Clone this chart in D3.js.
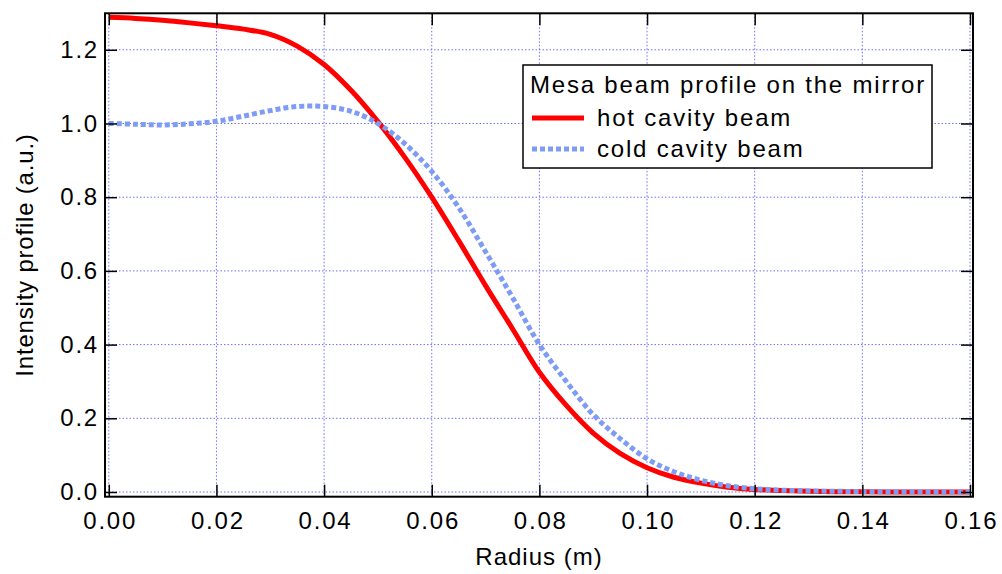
<!DOCTYPE html>
<html>
<head>
<meta charset="utf-8">
<script src="https://cdn.jsdelivr.net/npm/d3@7"></script>
<style>
  body { margin: 0; background: #fff; }
  text { font-family: "Liberation Sans", Arial, sans-serif; fill: #000; letter-spacing: 1.8px; }
</style>
</head>
<body>
<svg id="chart" width="1002" height="574"></svg>
<script>
// radius (m)
const radius = [0.000, 0.005, 0.010, 0.015, 0.020, 0.025, 0.030, 0.035, 0.040, 0.045,
  0.050, 0.055, 0.060, 0.065, 0.070, 0.075, 0.080, 0.085, 0.090, 0.095,
  0.100, 0.105, 0.110, 0.115, 0.120, 0.125, 0.130, 0.135, 0.140, 0.145,
  0.150, 0.155, 0.160];
const hotBeam = [1.288, 1.285, 1.280, 1.273, 1.265, 1.256, 1.242, 1.210, 1.160, 1.090,
  1.005, 0.908, 0.800, 0.682, 0.560, 0.443, 0.325, 0.235, 0.160, 0.105,
  0.066, 0.040, 0.024, 0.013, 0.007, 0.004, 0.002, 0.001, 0.0005, 0.0003,
  0.0002, 0.0001, 0.0001];
const coldBeam = [1.000, 0.998, 0.996, 0.999, 1.006, 1.020, 1.035, 1.046, 1.046, 1.033,
  1.000, 0.945, 0.870, 0.772, 0.652, 0.528, 0.400, 0.300, 0.210, 0.145,
  0.090, 0.055, 0.032, 0.017, 0.009, 0.005, 0.003, 0.002, 0.001, 0.0006,
  0.0004, 0.0002, 0.0001];
const xTicks = [0, 0.02, 0.04, 0.06, 0.08, 0.10, 0.12, 0.14, 0.16];
const yTicks = [0, 0.2, 0.4, 0.6, 0.8, 1.0, 1.2];

const frame = { left: 105, right: 973, top: 13.3, bottom: 496.7 };

const svg = d3.select("#chart");

const xScale = d3.scaleLinear().domain([-0.000706, 0.16056]).range([frame.left, frame.right]);
const yScale = d3.scaleLinear().domain([-0.01275, 1.299]).range([frame.bottom, frame.top]);

// grid
const grid = svg.append("g").attr("id", "grid");
grid.selectAll(".gx").data(xTicks).join("line")
  .attr("x1", d => xScale(d)).attr("x2", d => xScale(d))
  .attr("y1", frame.top).attr("y2", frame.bottom);
grid.selectAll(".gy").data(yTicks).join("line")
  .attr("y1", d => yScale(d)).attr("y2", d => yScale(d))
  .attr("x1", frame.left).attr("x2", frame.right);
grid.selectAll("line")
  .attr("stroke", "#6f6fff")
  .attr("stroke-width", 1)
  .attr("stroke-dasharray", "1.5,2");

// curves
const line = d3.line()
  .x((d, i) => xScale(radius[i]))
  .y(d => yScale(d))
  .curve(d3.curveCatmullRom);

svg.append("path").datum(hotBeam)
  .attr("d", line)
  .attr("fill", "none")
  .attr("stroke", "#ff0000")
  .attr("stroke-width", 5);

svg.append("path").datum(coldBeam)
  .attr("d", line)
  .attr("fill", "none")
  .attr("stroke", "#7f9cf5")
  .attr("stroke-width", 5)
  .attr("stroke-dasharray", "5,3");

// axes
function styleAxis(g) {
  g.select(".domain").remove();
  g.selectAll(".tick line").attr("stroke", "#000").attr("stroke-width", 1.5);
  g.selectAll(".tick text").style("font-size", "24px").attr("font-family", "Liberation Sans, Arial, sans-serif");
}

svg.append("g").attr("id", "axis-x")
  .attr("transform", `translate(0, ${frame.bottom})`)
  .call(d3.axisBottom(xScale).tickValues(xTicks).tickSize(-12).tickPadding(15)
    .tickFormat(d3.format(".2f")))
  .call(styleAxis)
  .selectAll(".tick text").attr("dx", "0.9");

svg.append("g").attr("id", "axis-x-top")
  .attr("transform", `translate(0, ${frame.top})`)
  .call(d3.axisTop(xScale).tickValues(xTicks).tickSize(-12).tickFormat(""))
  .call(styleAxis);

svg.append("g").attr("id", "axis-y")
  .attr("transform", `translate(${frame.left}, 0)`)
  .call(d3.axisLeft(yScale).tickValues(yTicks).tickSize(-12).tickPadding(6)
    .tickFormat(d3.format(".1f")))
  .call(styleAxis);

svg.append("g").attr("id", "axis-y-right")
  .attr("transform", `translate(${frame.right}, 0)`)
  .call(d3.axisRight(yScale).tickValues(yTicks).tickSize(-12).tickFormat(""))
  .call(styleAxis);

// frame
svg.append("rect")
  .attr("x", frame.left).attr("y", frame.top)
  .attr("width", frame.right - frame.left).attr("height", frame.bottom - frame.top)
  .attr("fill", "none").attr("stroke", "#000").attr("stroke-width", 2);

// axis titles
svg.append("text")
  .attr("x", (frame.left + frame.right) / 2).attr("y", 565)
  .attr("text-anchor", "middle")
  .style("font-size", "24px")
  .style("letter-spacing", "1px")
  .text("Radius (m)");

svg.append("text")
  .attr("transform", `translate(33, ${(frame.top + frame.bottom) / 2}) rotate(-90)`)
  .attr("text-anchor", "middle")
  .style("font-size", "24px")
  .style("letter-spacing", "0.8px")
  .text("Intensity profile (a.u.)");

// legend
const legend = svg.append("g").attr("id", "legend");
legend.append("rect")
  .attr("x", 523).attr("y", 65).attr("width", 409).attr("height", 103)
  .attr("fill", "#fff").attr("stroke", "#000").attr("stroke-width", 1.5);
legend.append("text").attr("x", 530).attr("y", 93)
  .style("font-size", "24px").text("Mesa beam profile on the mirror");

const entries = [
  { label: "hot cavity beam", color: "#ff0000", dash: null, y: 118 },
  { label: "cold cavity beam", color: "#7f9cf5", dash: "5,3", y: 149 },
];
entries.forEach(e => {
  legend.append("line")
    .attr("x1", 532).attr("x2", 584).attr("y1", e.y).attr("y2", e.y)
    .attr("stroke", e.color).attr("stroke-width", 5)
    .attr("stroke-dasharray", e.dash);
  legend.append("text").attr("x", 597).attr("y", e.y + 8)
    .style("font-size", "24px").text(e.label);
});
</script>
</body>
</html>
